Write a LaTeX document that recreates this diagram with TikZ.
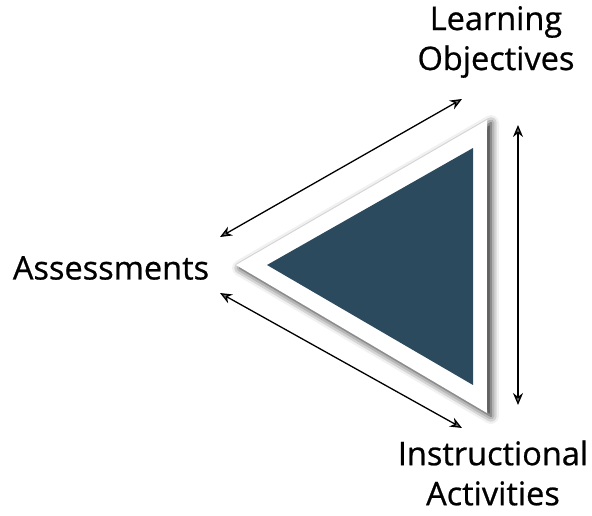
\documentclass[tikz,border=0pt]{standalone}
\usepackage{fontspec}
\setmainfont{Open Sans}[FakeBold=0.7]
\usetikzlibrary{arrows.meta,shadows.blur}
\definecolor{slate}{RGB}{44,74,94}
\begin{document}
\begin{tikzpicture}[x=1pt, y=-1pt,
    tag/.style={align=center, inner sep=0pt, font=\fontsize{32.5}{40}\selectfont},
    frame/.style={fill=white, blur shadow={shadow xshift=4pt, shadow yshift=-3pt,
        shadow blur radius=8pt, shadow opacity=90}},
    core/.style={fill=slate},
    link/.style={<->, >={Stealth[length=12pt, width=10pt]}, line width=1.3pt}
  ]
  \useasboundingbox (0,0) rectangle (592,516);

  \path[frame] (236,265) -- (487,120) -- (487,413) -- cycle;
  \path[core] (267,265) -- (473,148) -- (473,385) -- cycle;

  \node[tag] (lo) at (496,42) {Learning\\Objectives};
  \node[tag] (as) at (111,268) {Assessments};
  \node[tag] (ia) at (493,473) {Instructional\\Activities};

  \foreach \n/\x/\y in {A1/220/237, A2/462/99, B1/220/293, B2/462/428, C1/518/125, C2/518/405} {
    \coordinate (\n) at (\x,\y);
  }
  \foreach \a/\b in {A1/A2, B1/B2, C1/C2} {
    \draw[link] (\a) -- (\b);
  }
\end{tikzpicture}
\end{document}
